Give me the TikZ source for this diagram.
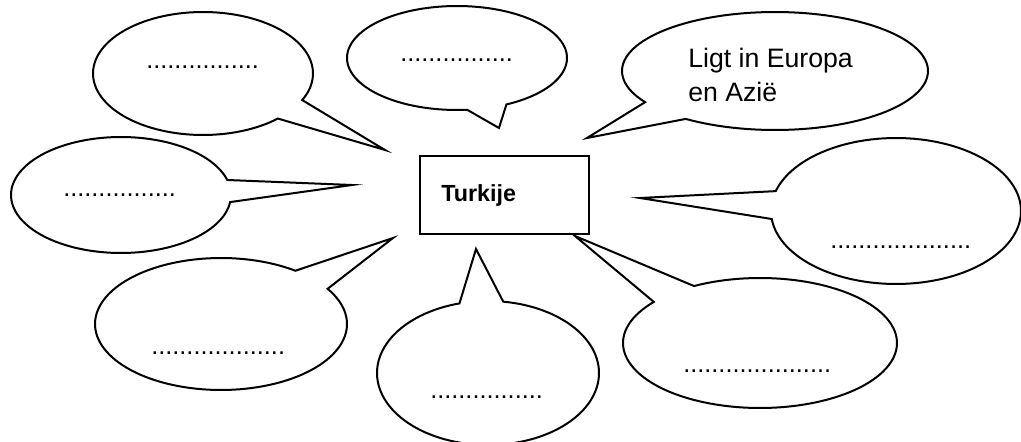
\documentclass[tikz,border=0pt]{standalone}
\usepackage{fontspec}
\setmainfont{Liberation Sans}
\newcommand\speechbubble[8]{%
  \draw[bubble] plot[domain=#5:#6,samples=120] ({#1+#3*cos(\x)},{#2+#4*sin(\x)}) -- (#7,#8) -- cycle;}
\begin{document}
\begin{tikzpicture}[x=0.75pt,y=-0.75pt,
  bubble/.style={draw=black,line width=1.5pt,line join=miter,miter limit=20},
  lbl/.style={inner sep=0pt,anchor=base west,font=\fontsize{19}{23}\selectfont},
  biglbl/.style={inner sep=0pt,anchor=base west,font=\fontsize{20}{24}\selectfont},
  title/.style={inner sep=0pt,anchor=base west,font=\fontsize{17.5}{21}\selectfont\bfseries},
  centrebox/.style={draw=black,line width=1.5pt}]
\useasboundingbox (0,0) rectangle (1021,442);
% bubbles: centre x, centre y, rx, ry, start angle, end angle, tip x, tip y
\speechbubble{203}{73.5}{110}{61.5}{47.1}{385.6}{385}{150}
\speechbubble{457}{58}{110}{52}{84.7}{423.3}{499}{128}
\speechbubble{775}{71}{153}{59}{148.1}{485.7}{587}{138}
\speechbubble{121}{195}{110}{58}{7}{345}{352}{185}
\speechbubble{896}{211}{125}{73}{195.8}{533.7}{640}{198}
\speechbubble{221}{324}{126}{66}{-32.2}{306.2}{393}{238}
\speechbubble{488}{373}{111}{72}{-82.1}{255.1}{476}{249}
\speechbubble{760}{343}{137}{65}{241.2}{579.2}{575}{236}
% centre box
\node[centrebox,minimum width=169*0.75pt,minimum height=78*0.75pt,inner sep=0pt,anchor=north west] (box) at (419,155) {};
\node[title] (turk) at (441,201.5) {Turkije};
% texts
\node[lbl] (t1) at (146,69) {................};
\node[lbl] (t2) at (400,62) {................};
\node[biglbl] (t3a) at (688,68) {Ligt in Europa};
\node[biglbl] (t3b) at (688,102) {en Azië};
\node[lbl] (t4) at (63,196) {................};
\node[lbl] (t5) at (830,248) {....................};
\node[lbl] (t6) at (151,354) {...................};
\node[lbl] (t7) at (430,398) {................};
\node[lbl] (t8) at (683,372) {.....................};
\end{tikzpicture}
\end{document}
